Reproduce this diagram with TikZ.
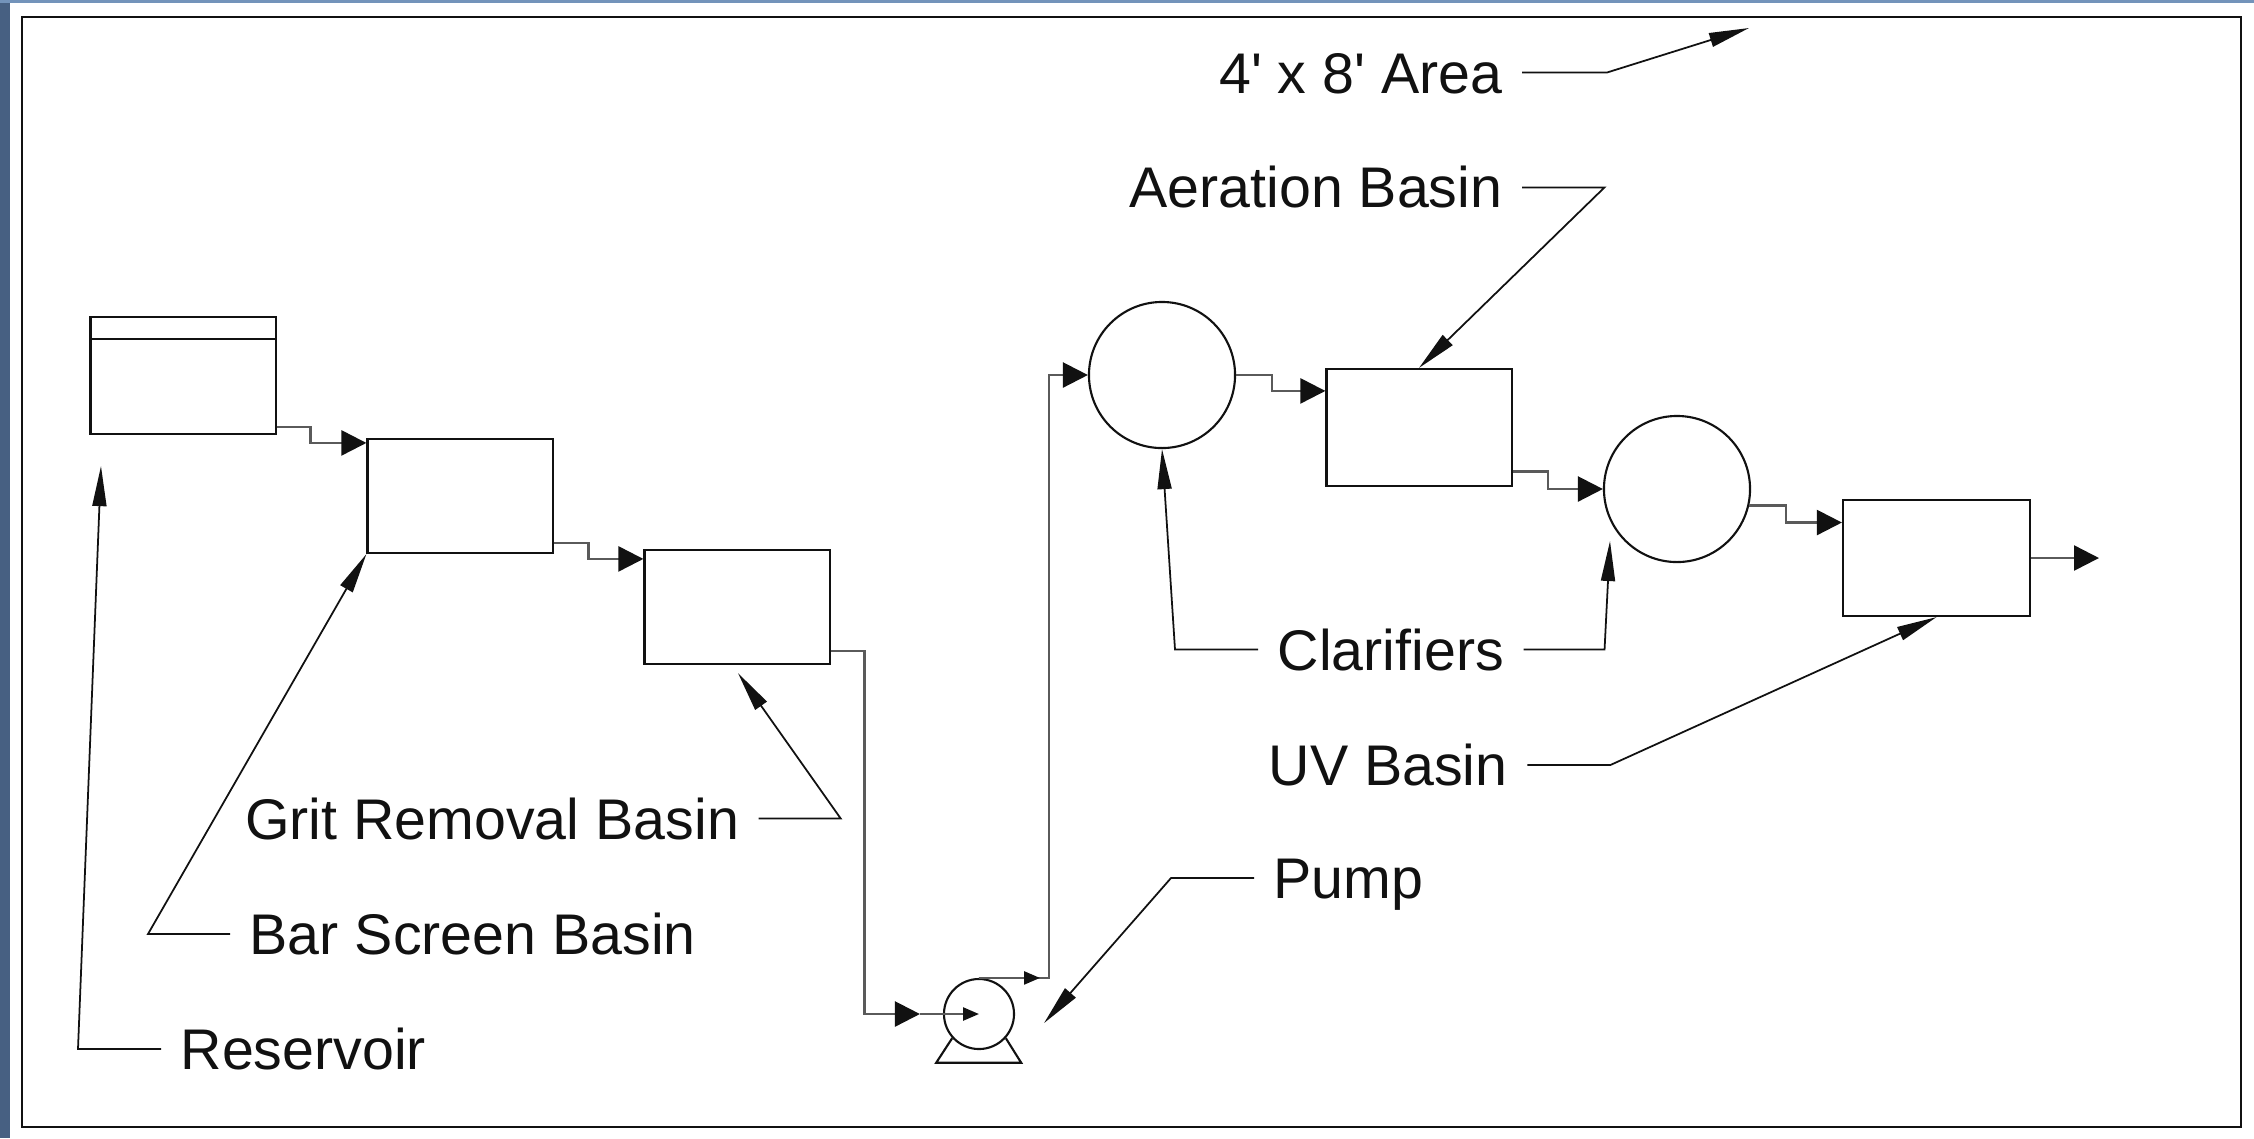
\documentclass[tikz,border=0pt]{standalone}
\usepackage{fontspec}
\setmainfont{Liberation Sans}
\usetikzlibrary{positioning, arrows.meta, calc}
\definecolor{ink}{HTML}{111111}
\definecolor{pipe}{HTML}{5A5A5A}
\definecolor{slide}{HTML}{476082}
\definecolor{slidetop}{HTML}{7393BA}
\tikzset{
  every node/.style = {text=ink},
  wwbasin/.style  = {draw=ink, line width=0.6pt, fill=white, inner sep=0pt,
                     minimum width=1.85cm, minimum height=1.16cm},
  wwclar/.style   = {circle, draw=ink, line width=0.6pt, fill=white, inner sep=0pt,
                     minimum size=1.46cm},
  wwpump/.style   = {circle, draw=ink, line width=0.6pt, fill=white, inner sep=0pt,
                     minimum size=0.70cm},
  wwline/.style   = {draw=ink, line width=0.6pt},
  wwflow/.style   = {-{Triangle[length=2.5mm,width=2.5mm,color=ink]}, draw=pipe, line width=0.7pt},
  wwflowin/.style = {-{Triangle[length=1.6mm,width=1.3mm,color=ink]}, draw=pipe, line width=0.7pt},
  wwlead/.style   = {-{Triangle[length=4mm,width=1.4mm]}, draw=ink, line width=0.5pt},
  wwlab/.style    = {font=\fontsize{16.3pt}{19pt}\selectfont, inner xsep=0.19cm, inner ysep=0pt,
                     text height=0.41cm, text depth=0pt},
}
\begin{document}
\begin{tikzpicture}[x=0.01cm, y=-0.01cm]
\useasboundingbox (0,0) rectangle (2254,1138);
\fill[white] (0,0) rectangle (2254,1138);
\fill[slide] (0,0) rectangle (10,1138);
\fill[slidetop] (0,0) rectangle (2254,3);
\draw[ink, line width=0.8pt] (22,17) rectangle (2241,1127);

% basins along the flow
\node[wwbasin, minimum height=1.17cm] (res) at (183,375.5) {};
\draw[wwline] ($(res.north west)+(0,23)$) -- ($(res.north east)+(0,23)$);
\node[wwbasin, minimum height=1.14cm] (bar)  at (460,496) {};
\node[wwbasin, minimum height=1.14cm] (grit) at (737,607) {};
\node[wwpump] (pump) at (979,1014) {};
\draw[wwline] (pump.-138) -- ++(-16,24.6) -- ++(85,0) -- (pump.-42);
\node[wwclar] (cla1) at (1162,375) {};
\node[wwbasin, minimum height=1.17cm] (aer) at (1419,427.5) {};
\node[wwclar] (cla2) at (1677,489) {};
\node[wwbasin, minimum width=1.87cm] (uv) at (1936.5,558) {};
\coordinate (out) at (2099,558);
\coordinate (areatip) at (1749,28);

\draw[wwflow] ($(res.south east)+(0,-8)$) -- ++(34,0) |- ($(bar.north west)+(0,5)$);
\draw[wwflow] ($(bar.south east)+(0,-11)$) -- ++(35,0) |- ($(grit.north west)+(0,10)$);
\draw[wwflow] ($(grit.south east)+(0,-14)$) -- ++(34,0) |- ($(pump.west)+(-23,0)$);
\draw[wwflowin] ($(pump.west)+(-23,0)$) -- (pump.center);
\draw[wwflow] (pump.north) -- ++(70,0) |- (cla1.west);
\draw[wwflowin] (pump.north) -- ++(61,0);
\draw[wwflow] (cla1.east) -- ++(36,0) |- ($(aer.north west)+(0,23)$);
\draw[wwflow] ($(aer.south east)+(0,-15.4)$) -- ++(35.4,0) |- (cla2.west);
\draw[wwflow] (cla2.-13) -- ++(37,0) |- ($(uv.north west)+(0,23.6)$);
\draw[wwflow] (uv.east) -- (out);

% labels and leaders
\node[wwlab, anchor=east] (arealab) at (1522,72.5) {4\textquotesingle{} x 8\textquotesingle{} Area};
\node[wwlab, anchor=east] (aerlab)  at (1522,187.4) {Aeration Basin};
\node[wwlab, anchor=west] (clalab)  at (1258,649.5) {Clarifiers};
\node[wwlab, anchor=west] (uvlab)   at (1249,765) {UV Basin};
\node[wwlab, anchor=west] (pumplab) at (1254,878) {Pump};
\node[wwlab, anchor=east] (gritlab) at (758.7,818.5) {Grit Removal Basin};
\node[wwlab, anchor=west] (barlab)  at (230,934) {Bar Screen Basin};
\node[wwlab, anchor=west] (reslab)  at (161,1049) {Reservoir};

\draw[wwlead] (arealab.east) -- ++(85,0) -- (areatip);
\draw[wwlead] (aerlab.east) -- ++(82.5,0) -- (aer.north);
\draw[wwlead] (clalab.west) -- ++(-83,0) -- (cla1.south);
\draw[wwlead] (clalab.east) -- ++(81,0) -- ($(cla2.center)+(-67,52)$);
\draw[wwlead] (uvlab.east) -- ++(83,0) -- (uv.south);
\draw[wwlead] (pumplab.west) -- ++(-83,0) -- ($(pump.east)+(29,9)$);
\draw[wwlead] (gritlab.east) -- ++(82,0) -- ($(grit.south)+(1,8)$);
\draw[wwlead] (barlab.west) -- ++(-82,0) -- (bar.south west);
\draw[wwlead] (reslab.west) -- ++(-83,0) -- ($(res.south west)+(11.6,31)$);
\end{tikzpicture}
\end{document}
